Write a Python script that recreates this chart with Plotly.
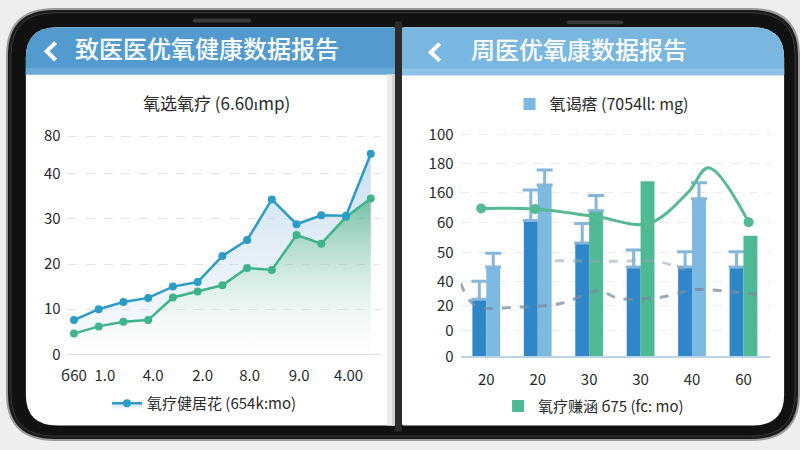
import plotly.graph_objects as go

W, H = 800, 450
FONT = "Noto Sans CJK SC"

# ---------------- data: left panel (line chart) ----------------
left_title = "氧选氧疗 (6.60ımp)"
left_header = "致医医优氧健康数据报告"
left_x = list(range(13))
blue_vals = [7.6, 10.0, 11.6, 12.5, 15.0, 16.0, 21.8, 25.3, 34.3, 28.8, 30.8, 30.7, 44.4]
green_vals = [4.6, 6.2, 7.2, 7.6, 12.6, 13.9, 15.3, 19.1, 18.7, 26.4, 24.5, 30.4, 34.5]
left_xtick_pos = [0, 1.25, 3.2, 5.2, 7.1, 9.1, 11.1]
left_xtick_text = ["б60", "1.0", "4.0", "2.0", "8.0", "9.0", "4.00"]
left_ytick_pos = [0, 10, 20, 30, 40, 48.3]
left_ytick_text = ["0", "10", "20", "30", "40", "80"]
left_legend_name = "氧疗健居花 (654k:mo)"

# ---------------- data: right panel (bar chart) ----------------
right_header = "周医优氧康数据报告"
right_cats = ["20", "20", "30", "30", "40", "60"]
right_x = [0, 1, 2, 3, 4, 5]
dark_vals = [25.8, 61.3, 51.2, 40.3, 40.3, 40.3]
dark_err = [8.1, 13.8, 8.8, 7.7, 6.9, 6.9]
light_vals = [40.3, 77.4, None, None, 71.2, None]
light_err = [6.2, 6.8, None, None, 7.2, None]
green_bar_vals = [None, None, 65.8, 79.1, None, 54.5]
green_bar_err = [None, None, 6.8, None, None, None]
trend_x = [-0.1, 0.95, 2.18, 3.15, 3.92, 4.32, 5.1]
trend_y = [66.8, 66.5, 62.9, 59.9, 74.0, 85.2, 60.6]
trend_dot = [1, 1, 1, 1, 0, 0, 1]
dash_low_x = [-0.5, -0.21, 0.64, 1.47, 2.18, 2.57, 3.40, 4.03, 4.81, 5.33]
dash_low_y = [33.0, 22.9, 22.3, 24.0, 29.6, 26.2, 26.7, 30.1, 29.1, 27.7]
dash_up_x = [1.33, 2.57, 3.26, 3.84]
dash_up_y = [43.2, 42.9, 43.2, 39.3]
right_ytick_pos = [0, 11.7, 23, 33.9, 47, 60.4, 73.9, 87, 100]
right_ytick_text = ["0", "0", "20", "40", "50", "60", "160", "180", "100"]
right_top_name = "氧谒瘩 (7054ll: mg)"
right_legend_name = "氧疗赚涵 б75 (fc: mo)"

# ---------------- helpers (pixel -> paper) ----------------
def px(x):
    return x / W

def py(y):
    return 1 - y / H

def pt(x, y):
    return f"{px(x):.5f},{py(y):.5f}"

def rrect(x0, y0, x1, y1, r_tl=0, r_tr=0, r_br=0, r_bl=0):
    p = f"M {pt(x0 + r_tl, y0)} L {pt(x1 - r_tr, y0)} "
    p += f"Q {pt(x1, y0)} {pt(x1, y0 + r_tr)} L {pt(x1, y1 - r_br)} "
    p += f"Q {pt(x1, y1)} {pt(x1 - r_br, y1)} L {pt(x0 + r_bl, y1)} "
    p += f"Q {pt(x0, y1)} {pt(x0, y1 - r_bl)} L {pt(x0, y0 + r_tl)} "
    p += f"Q {pt(x0, y0)} {pt(x0 + r_tl, y0)} Z"
    return p

def path_shape(path, fill, line_color=None, line_width=0):
    return dict(type="path", xref="paper", yref="paper", path=path,
                fillcolor=fill, line=dict(color=line_color or fill, width=line_width),
                layer="below")

shapes = []
# phone body
shapes.append(path_shape(rrect(1, 1, 799, 449, 48, 48, 48, 48), "#1b1b1b", "#9a9a9a", 2))
shapes.append(path_shape(rrect(5, 5, 795, 445, 44, 44, 44, 44), "#111111", "#3a3a3a", 1))
# screens
shapes.append(path_shape(rrect(20, 20, 392, 434, 32, 2, 2, 32), "#ffffff"))
shapes.append(path_shape(rrect(399, 20, 784, 434, 2, 32, 32, 2), "#ffffff"))
# headers
shapes.append(path_shape(rrect(20, 20, 392, 69, 32, 2, 0, 0), "#539bcf"))
shapes.append(path_shape(rrect(399, 20, 784, 70, 2, 32, 0, 0), "#79b7e1"))
shapes.append(path_shape(rrect(20, 62, 392, 69, 0, 0, 0, 0), "#6aaad8"))
shapes.append(path_shape(rrect(399, 63, 784, 70, 0, 0, 0, 0), "#8cc3e6"))
# hinge crease
shapes.append(path_shape(rrect(384, 69, 392, 434), "#ececec"))
shapes.append(path_shape(rrect(389, 69, 392, 434), "#d2d2d2"))
shapes.append(path_shape(rrect(392, 14, 399, 440), "#2b2b2b"))
# speaker slots
shapes.append(path_shape(rrect(188, 11, 247, 15, 2, 2, 2, 2), "#3a3a3a"))
shapes.append(path_shape(rrect(565, 13, 622, 17, 2, 2, 2, 2), "#3a3a3a"))
# back chevrons
for cx, cy in [(45, 45), (432, 46)]:
    shapes.append(dict(type="path", xref="paper", yref="paper", layer="above",
                       path=f"M {pt(cx + 5, cy - 9)} L {pt(cx - 4, cy)} L {pt(cx + 5, cy + 9)}",
                       line=dict(color="white", width=4)))

fig = go.Figure()

# ---------------- left panel traces ----------------
fig.add_trace(go.Scatter(
    x=left_x, y=green_vals, mode="lines+markers", xaxis="x", yaxis="y",
    line=dict(color="#3fb48b", width=2.5),
    marker=dict(size=8, color="#3fb48b"),
    fill="tozeroy",
    fillgradient=dict(type="vertical", start=0, stop=36,
                      colorscale=[[0, "rgba(255,255,255,0.1)"], [1, "rgba(70,170,135,0.8)"]]),
    showlegend=False, hoverinfo="skip"))
fig.add_trace(go.Scatter(
    x=left_x, y=blue_vals, mode="lines+markers", xaxis="x", yaxis="y",
    name=left_legend_name, legend="legend",
    line=dict(color="#2b9cc6", width=2.5),
    marker=dict(size=8, color="#2b9cc6", symbol="circle"),
    fill="tonexty",
    fillgradient=dict(type="vertical", start=0, stop=45,
                      colorscale=[[0, "rgba(230,240,248,0.3)"], [1, "rgba(170,205,232,0.65)"]]),
    hoverinfo="skip"))

# ---------------- right panel traces ----------------
BW = 0.27
err_style = dict(type="data", symmetric=False, color="#86b6da", thickness=3, width=8)
fig.add_trace(go.Bar(
    x=right_x, y=dark_vals, xaxis="x2", yaxis="y2", width=BW, offset=-BW,
    marker=dict(color="#2f87c9", line=dict(width=0)),
    error_y=dict(array=dark_err, arrayminus=[0] * 6, **err_style),
    showlegend=False, hoverinfo="skip"))
fig.add_trace(go.Bar(
    x=right_x, y=light_vals, xaxis="x2", yaxis="y2", width=BW, offset=0,
    name=right_top_name, legend="legend3",
    marker=dict(color="#7db9e1", line=dict(width=0)),
    error_y=dict(array=light_err, arrayminus=[0] * 6, **err_style),
    hoverinfo="skip"))
fig.add_trace(go.Bar(
    x=right_x, y=green_bar_vals, xaxis="x2", yaxis="y2", width=BW, offset=0,
    name=right_legend_name, legend="legend2",
    marker=dict(color="#4fb894", line=dict(width=0)),
    hoverinfo="skip"))
# error whiskers only where the green bars have one
g_idx = [i for i, e in enumerate(green_bar_err) if e is not None]
fig.add_trace(go.Scatter(
    x=[right_x[i] + BW / 2 for i in g_idx], y=[green_bar_vals[i] for i in g_idx],
    mode="markers", xaxis="x2", yaxis="y2", marker=dict(size=1, opacity=0),
    error_y=dict(array=[green_bar_err[i] for i in g_idx],
                 arrayminus=[0] * len(g_idx), **err_style),
    showlegend=False, hoverinfo="skip"))
fig.add_trace(go.Scatter(
    x=dash_low_x, y=dash_low_y, mode="lines", xaxis="x2", yaxis="y2",
    line=dict(color="rgba(120,140,160,0.75)", width=3, dash="dash", shape="spline"),
    showlegend=False, hoverinfo="skip"))
fig.add_trace(go.Scatter(
    x=dash_up_x, y=dash_up_y, mode="lines", xaxis="x2", yaxis="y2",
    line=dict(color="rgba(150,165,180,0.55)", width=3, dash="dash", shape="spline"),
    showlegend=False, hoverinfo="skip"))
fig.add_trace(go.Scatter(
    x=trend_x, y=trend_y, mode="lines", xaxis="x2", yaxis="y2",
    line=dict(color="#55b993", width=3, shape="spline", smoothing=1.0),
    showlegend=False, hoverinfo="skip"))
fig.add_trace(go.Scatter(
    x=[x for x, d in zip(trend_x, trend_dot) if d],
    y=[y for y, d in zip(trend_y, trend_dot) if d],
    mode="markers", xaxis="x2", yaxis="y2",
    marker=dict(size=10, color="#55b993"),
    showlegend=False, hoverinfo="skip"))

tick_font = dict(family=FONT, size=15, color="#2a2a2a")

fig.update_layout(
    width=W, height=H, autosize=False,
    margin=dict(l=0, r=0, t=0, b=0),
    paper_bgcolor="#eeeeee", plot_bgcolor="rgba(0,0,0,0)",
    font=dict(family=FONT, color="#2a2a2a"),
    barmode="overlay",
    shapes=shapes,
    xaxis=dict(domain=[px(62), px(377)], range=[-0.26, 12.38],
               tickmode="array", tickvals=left_xtick_pos, ticktext=left_xtick_text,
               tickfont=tick_font, showgrid=False, zeroline=False, ticklabelstandoff=8,
               showline=True, linecolor="#e2e2e2", linewidth=1, ticks="", fixedrange=True),
    yaxis=dict(domain=[py(360), py(128)], range=[0, 49.4],
               tickmode="array", tickvals=left_ytick_pos, ticktext=left_ytick_text,
               tickfont=tick_font, showgrid=True, gridcolor="#e4e4e4", griddash="dash",
               gridwidth=1, zeroline=False, ticks="", ticklabelstandoff=6, fixedrange=True),
    xaxis2=dict(domain=[px(458), px(770)], range=[-0.5, 5.52], anchor="y2",
                tickmode="array", tickvals=right_x, ticktext=right_cats,
                tickfont=tick_font, showgrid=False, zeroline=False, ticklabelstandoff=9,
                showline=True, linecolor="#b9d3e8", linewidth=2, ticks="", fixedrange=True),
    yaxis2=dict(domain=[py(362), py(128)], range=[0, 101.7], anchor="x2",
                tickmode="array", tickvals=right_ytick_pos, ticktext=right_ytick_text,
                tickfont=tick_font, showgrid=True, gridcolor="#ececec", griddash="dash",
                gridwidth=1, zeroline=False, ticks="", ticklabelstandoff=6, fixedrange=True),
    legend=dict(x=px(200), y=py(411), xanchor="center", yanchor="middle",
                orientation="h", bgcolor="rgba(0,0,0,0)",
                font=dict(family=FONT, size=15, color="#2a2a2a")),
    legend2=dict(x=px(592), y=py(414), xanchor="center", yanchor="middle",
                 orientation="h", bgcolor="rgba(0,0,0,0)",
                 font=dict(family=FONT, size=15, color="#2a2a2a")),
    legend3=dict(x=px(600), y=py(100), xanchor="center", yanchor="middle",
                 orientation="h", bgcolor="rgba(0,0,0,0)",
                 font=dict(family=FONT, size=16, color="#2a2a2a")),
    annotations=[
        dict(text=left_header, x=px(68), y=py(41), xref="paper", yref="paper",
             xanchor="left", yanchor="middle", showarrow=False,
             font=dict(family=FONT, size=24, color="white", weight=500)),
        dict(text=right_header, x=px(466), y=py(42), xref="paper", yref="paper",
             xanchor="left", yanchor="middle", showarrow=False,
             font=dict(family=FONT, size=24, color="white", weight=500)),
        dict(text=left_title, x=px(212), y=py(98), xref="paper", yref="paper",
             xanchor="center", yanchor="middle", showarrow=False,
             font=dict(family=FONT, size=17, color="#2a2a2a")),
    ],
)

fig.write_html("out.html", config={"displayModeBar": False},
               post_script="document.body.style.margin='0';document.body.style.overflow='hidden';")
